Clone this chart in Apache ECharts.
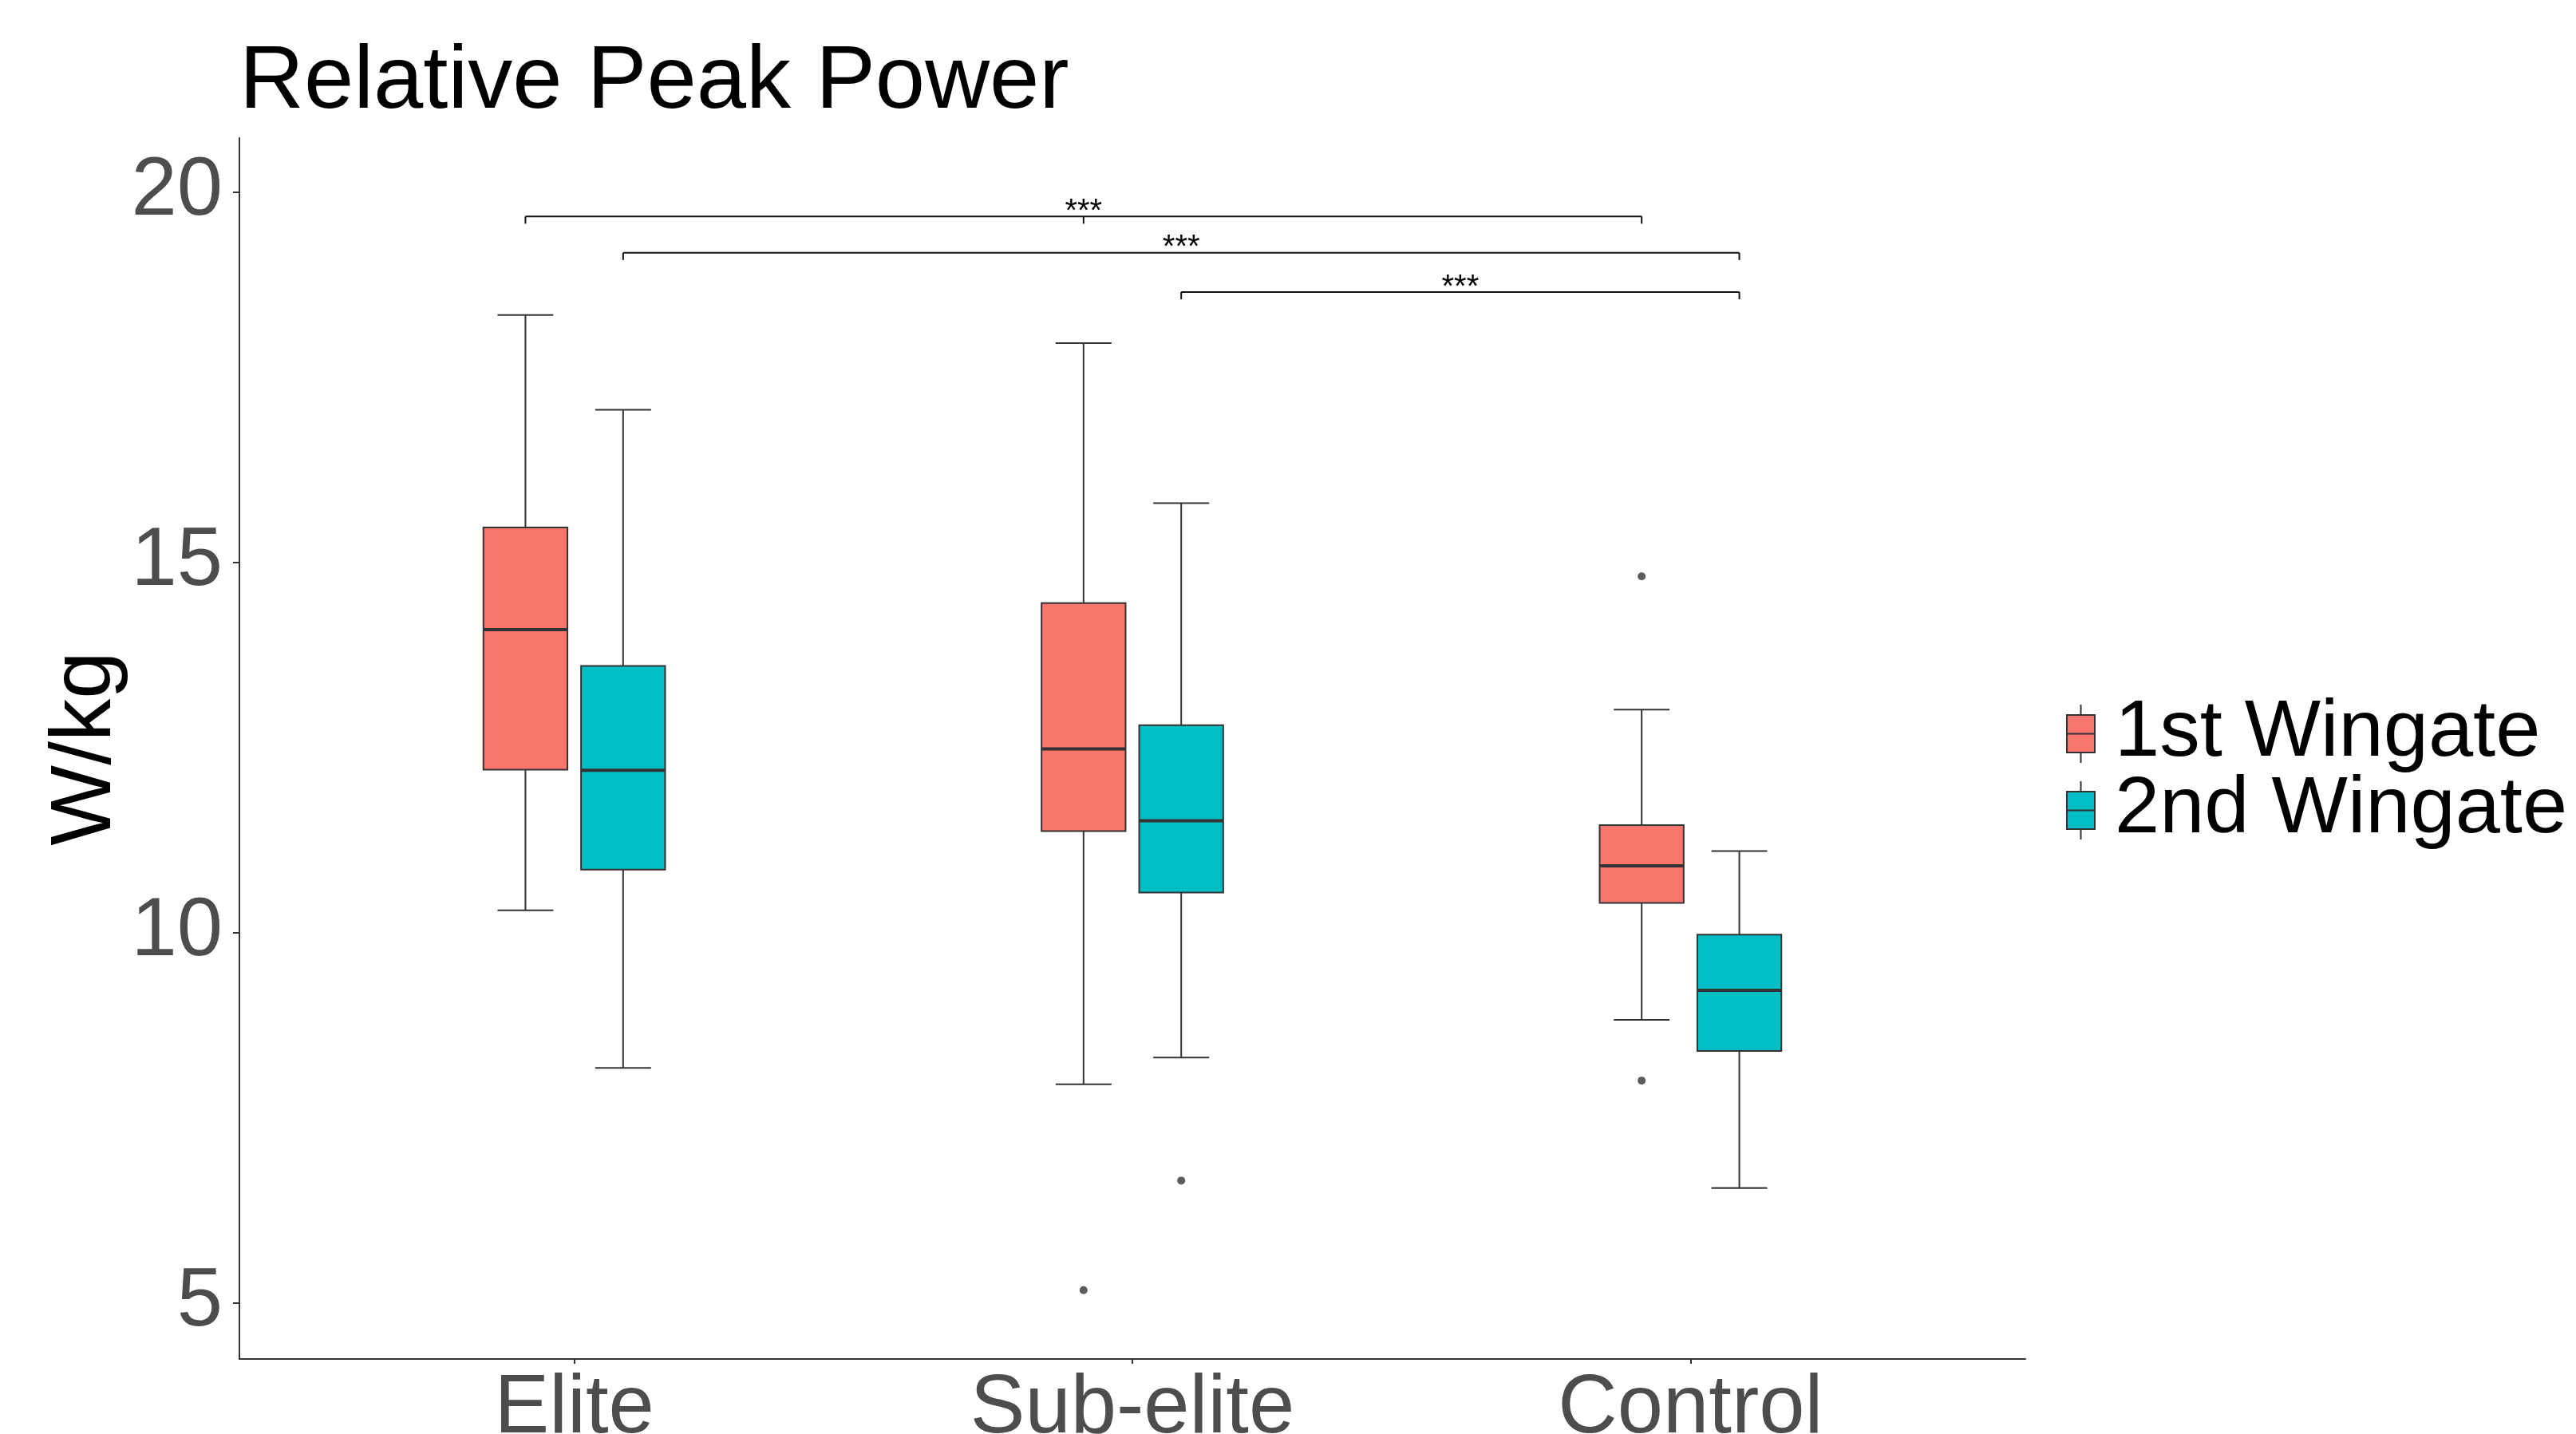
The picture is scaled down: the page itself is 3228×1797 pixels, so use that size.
<!DOCTYPE html>
<html>
<head>
<meta charset="utf-8">
<script src="https://cdn.jsdelivr.net/npm/echarts@6/dist/echarts.min.js"></script>
<style>
html,body{margin:0;padding:0;background:#fff;}
#chart{width:3228px;height:1797px;}
</style>
</head>
<body>
<div id="chart"></div>
<script>
// ---------------- data ----------------
const categories = ['Elite', 'Sub-elite', 'Control'];
const seriesNames = ['1st Wingate', '2nd Wingate'];
const yTickValues = [5, 10, 15, 20];
const yAxisTitle = 'W/kg';
// box stats per category: [lower whisker, Q1, median, Q3, upper whisker]
const firstWingateStats = [
  [10.30, 12.20, 14.09, 15.47, 18.34],
  [7.95, 11.37, 12.48, 14.45, 17.96],
  [8.82, 10.40, 10.90, 11.45, 13.01]
];
const secondWingateStats = [
  [8.17, 10.85, 12.19, 13.60, 17.06],
  [8.31, 10.54, 11.51, 12.80, 15.80],
  [6.55, 8.40, 9.22, 9.97, 11.10]
];
const firstWingateOutliers = [[], [5.17], [14.81, 8.00]];
const secondWingateOutliers = [[], [6.65], []];
// significance brackets: groups joined as [categoryIndex, seriesIndex]
const sigGroups = [
  [[0, 0], [1, 0], [2, 0]],
  [[0, 1], [2, 1]],
  [[1, 1], [2, 1]]
];
const sigHeights = [19.67, 19.18, 18.65];
const sigLabels = ['***', '***', '***'];

// ---------------- layout / style ----------------
const FONT = "'Liberation Sans', Arial, sans-serif";
const COLORS = ['#F8766D', '#00BFC4'];
const LINE = '#333333';
const DODGE = 0.0875;
const BOX_HALF = 0.0753;
const CAP_HALF = 0.05;

function groupX(c, s) { return c + 1 + (s === 0 ? -DODGE : DODGE); }

function boxRenderer(s) {
  return function (params, api) {
    const c = api.value(0);
    const lo = api.value(1), q1 = api.value(2), med = api.value(3), q3 = api.value(4), hi = api.value(5);
    const x = c + (s === 0 ? -DODGE : DODGE);
    const cx = api.coord([x, med])[0];
    const xl = api.coord([x - BOX_HALF, med])[0];
    const xr = api.coord([x + BOX_HALF, med])[0];
    const cl = api.coord([x - CAP_HALF, med])[0];
    const cr = api.coord([x + CAP_HALF, med])[0];
    const yLo = api.coord([x, lo])[1];
    const yQ1 = api.coord([x, q1])[1];
    const yMed = api.coord([x, med])[1];
    const yQ3 = api.coord([x, q3])[1];
    const yHi = api.coord([x, hi])[1];
    const ls = { stroke: LINE, lineWidth: 2 };
    return {
      type: 'group',
      children: [
        { type: 'line', shape: { x1: cx, y1: yHi, x2: cx, y2: yLo }, style: ls },
        { type: 'line', shape: { x1: cl, y1: yHi, x2: cr, y2: yHi }, style: ls },
        { type: 'line', shape: { x1: cl, y1: yLo, x2: cr, y2: yLo }, style: ls },
        { type: 'rect', shape: { x: xl, y: yQ3, width: xr - xl, height: yQ1 - yQ3 },
          style: { fill: COLORS[s], stroke: LINE, lineWidth: 2 } },
        { type: 'line', shape: { x1: xl, y1: yMed, x2: xr, y2: yMed }, style: { stroke: LINE, lineWidth: 4 } }
      ]
    };
  };
}

function sigRenderer(params, api) {
  const i = params.dataIndex;
  const h = sigHeights[i];
  const xs = sigGroups[i].map(g => api.coord([groupX(g[0], g[1]), h])[0]);
  const y = api.coord([1, h])[1];
  const x0 = Math.min.apply(null, xs), x1 = Math.max.apply(null, xs);
  const st = { stroke: '#111', lineWidth: 2 };
  const children = [{ type: 'line', shape: { x1: x0, y1: y, x2: x1, y2: y }, style: st }];
  xs.forEach(x => children.push({ type: 'line', shape: { x1: x, y1: y, x2: x, y2: y + 9 }, style: st }));
  children.push({
    type: 'text',
    style: { text: sigLabels[i], x: (x0 + x1) / 2, y: y - 5.5, align: 'center', verticalAlign: 'middle',
      fontSize: 40, fontFamily: FONT, fill: '#000' }
  });
  return { type: 'group', children };
}

function outlierPoints(list, s) {
  const pts = [];
  list.forEach((vals, c) => vals.forEach(v => pts.push([groupX(c, s), v])));
  return pts;
}

const keyIcon = 'path://M17.5 0 L17.5 13 M0 13 L35 13 L35 60 L0 60 Z M0 36.5 L35 36.5 M17.5 60 L17.5 73';

const chart = echarts.init(document.getElementById('chart'), null, { renderer: 'canvas' });
chart.setOption({
  backgroundColor: '#ffffff',
  animation: false,
  title: {
    text: 'Relative Peak Power', left: 300, top: 48, padding: 0,
    textStyle: { fontSize: 112, fontWeight: 'normal', color: '#000', fontFamily: FONT, lineHeight: 112 }
  },
  legend: {
    orient: 'vertical', left: 2589, top: 869, padding: 0,
    itemWidth: 35, itemHeight: 73, itemGap: -5,
    icon: keyIcon, selectedMode: false,
    data: seriesNames,
    itemStyle: { borderColor: LINE, borderWidth: 2 },
    textStyle: { fontSize: 101, color: '#000', fontFamily: FONT, padding: [0, 0, 0, 20] }
  },
  graphic: [{
    type: 'text', x: 108, y: 938, rotation: Math.PI / 2, silent: true,
    style: { text: yAxisTitle, align: 'center', verticalAlign: 'middle', fontSize: 107, fontFamily: FONT, fill: '#000' }
  }],
  grid: { left: 300, right: 690, top: 173, bottom: 94, outerBoundsMode: 'none', containLabel: false },
  xAxis: {
    type: 'value', min: 0.4, max: 3.6,
    axisLine: { show: true, onZero: false, lineStyle: { color: LINE, width: 2 } },
    axisTick: { show: true, customValues: [1, 2, 3], length: 6, lineStyle: { color: LINE, width: 2 } },
    axisLabel: { show: true, customValues: [1, 2, 3], formatter: v => categories[Math.round(v) - 1],
      fontSize: 103, lineHeight: 103, color: '#4D4D4D', fontFamily: FONT, margin: 12 },
    splitLine: { show: false }
  },
  yAxis: {
    type: 'value', min: 4.24, max: 20.73,
    axisLine: { show: true, lineStyle: { color: LINE, width: 2 } },
    axisTick: { show: true, customValues: yTickValues, length: 8, lineStyle: { color: LINE, width: 2 } },
    axisLabel: { show: true, customValues: yTickValues, fontSize: 103, color: '#4D4D4D', fontFamily: FONT, margin: 21 },
    splitLine: { show: false }
  },
  series: [
    { type: 'custom', name: seriesNames[0], renderItem: boxRenderer(0), itemStyle: { color: COLORS[0] },
      encode: { x: 0, y: [1, 2, 3, 4, 5] }, data: firstWingateStats.map((b, i) => [i + 1].concat(b)), z: 2 },
    { type: 'custom', name: seriesNames[1], renderItem: boxRenderer(1), itemStyle: { color: COLORS[1] },
      encode: { x: 0, y: [1, 2, 3, 4, 5] }, data: secondWingateStats.map((b, i) => [i + 1].concat(b)), z: 2 },
    { type: 'scatter', name: 'outliers-1', data: outlierPoints(firstWingateOutliers, 0), symbolSize: 10,
      itemStyle: { color: LINE }, z: 3, silent: true },
    { type: 'scatter', name: 'outliers-2', data: outlierPoints(secondWingateOutliers, 1), symbolSize: 10,
      itemStyle: { color: LINE }, z: 3, silent: true },
    { type: 'custom', name: 'significance', renderItem: sigRenderer, encode: { x: 0, y: 1 },
      data: sigHeights.map(h => [2, h]), z: 4, silent: true }
  ]
});
</script>
</body>
</html>
